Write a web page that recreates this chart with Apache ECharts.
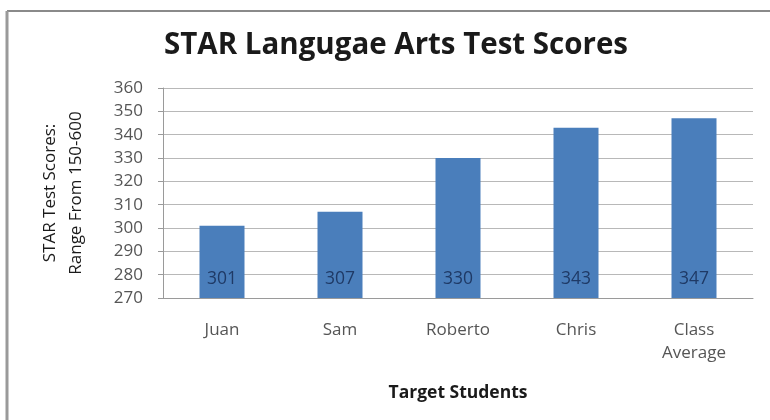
<!DOCTYPE html>
<html>
<head>
<meta charset="utf-8">
<script src="https://cdn.jsdelivr.net/npm/echarts@6/dist/echarts.min.js"></script>
<style>
  html, body { margin: 0; padding: 0; background: #fff; }
  #chart { width: 770px; height: 420px; }
</style>
</head>
<body>
<div id="chart"></div>
<script>
// 数据
const students = ['Juan', 'Sam', 'Roberto', 'Chris', 'Class\nAverage']
const scores = [301, 307, 330, 343, 347]
const yMin = 270
const yMax = 360
const yStep = 10

const font = '"Open Sans", Lato, sans-serif'

const chart = echarts.init(document.getElementById('chart'))

const option = {
  backgroundColor: '#fff',
  animation: false,
  title: {
    text: 'STAR Langugae Arts Test Scores',
    left: 391,
    textAlign: 'center',
    top: 26,
    textStyle: { fontFamily: font, fontSize: 29.5, fontWeight: 'bold', color: '#1a1a1a' }
  },
  grid: { left: 163, right: 17, top: 88, bottom: 122 },
  xAxis: {
    type: 'category',
    data: students,
    name: 'Target Students',
    nameLocation: 'middle',
    nameGap: 86,
    nameTextStyle: { fontFamily: font, fontSize: 17.5, fontWeight: 'bold', color: '#1a1a1a' },
    axisLine: { lineStyle: { color: '#9a9a9a' } },
    axisTick: { length: 5, lineStyle: { color: '#9a9a9a' } },
    axisLabel: { fontFamily: font, fontSize: 17, color: '#555', margin: 21, lineHeight: 23 }
  },
  yAxis: {
    type: 'value',
    min: yMin,
    max: yMax,
    interval: yStep,
    name: 'STAR Test Scores:\nRange From 150-600',
    nameLocation: 'middle',
    nameGap: 74,
    nameRotate: 90,
    nameTextStyle: { fontFamily: font, fontSize: 17, color: '#1a1a1a', lineHeight: 26 },
    axisLine: { show: true, lineStyle: { color: '#9a9a9a' } },
    axisTick: { show: true, length: 5, lineStyle: { color: '#9a9a9a' } },
    axisLabel: { fontFamily: font, fontSize: 17, color: '#555', margin: 20 },
    splitLine: { lineStyle: { color: '#b8b8b8' } }
  },
  series: [
    {
      type: 'bar',
      data: scores,
      barWidth: 45,
      itemStyle: { color: '#4a7ebb' },
      label: {
        show: true,
        position: 'insideBottom',
        distance: 10,
        fontFamily: font,
        fontSize: 17.5,
        color: '#1f3a66'
      }
    }
  ],
  graphic: [
    { type: 'line', shape: { x1: 7, y1: 11, x2: 770, y2: 11 }, style: { stroke: '#8a8a8a', lineWidth: 2 } },
    { type: 'line', shape: { x1: 7, y1: 11, x2: 7, y2: 420 }, style: { stroke: '#9a9a9a', lineWidth: 3 } }
  ]
}

chart.setOption(option)
</script>
</body>
</html>
